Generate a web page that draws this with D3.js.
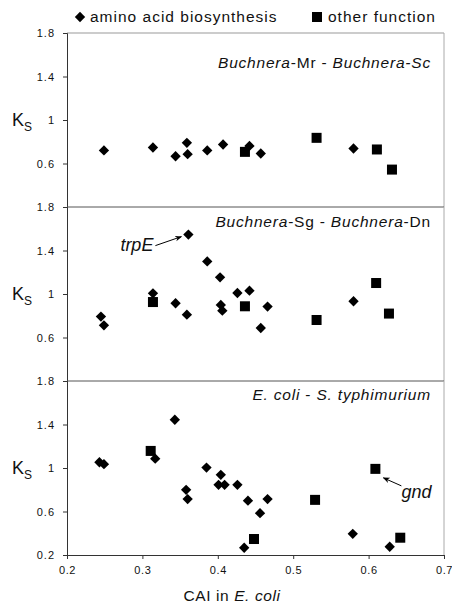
<!DOCTYPE html>
<html>
<head>
<meta charset="utf-8">
<script src="https://cdn.jsdelivr.net/npm/d3@7"></script>
<style>
  body { margin: 0; background: #fff; }
  text { font-family: "Liberation Sans", Arial, sans-serif; fill: #111; }
</style>
</head>
<body>
<div id="chart"></div>
<script>
// values: [CAI in E. coli, Ks]
var mrScAmino = [[0.249, 0.72], [0.314, 0.747], [0.344, 0.667], [0.359, 0.79], [0.360, 0.686],
  [0.386, 0.72], [0.407, 0.775], [0.442, 0.762], [0.457, 0.692], [0.580, 0.738]];
var mrScOther = [[0.436, 0.707], [0.531, 0.836], [0.611, 0.729], [0.631, 0.544]];

var sgDnAmino = [[0.245, 0.792], [0.249, 0.712], [0.314, 1.006], [0.344, 0.915], [0.359, 0.81],
  [0.361, 1.546], [0.386, 1.30], [0.403, 1.153], [0.404, 0.90], [0.406, 0.847], [0.426, 1.009],
  [0.442, 1.031], [0.457, 0.687], [0.466, 0.884], [0.580, 0.933]];
var sgDnOther = [[0.314, 0.926], [0.436, 0.887], [0.531, 0.761], [0.610, 1.101], [0.627, 0.82]];

var ecStAmino = [[0.243, 1.053], [0.249, 1.035], [0.317, 1.086], [0.343, 1.444], [0.358, 0.799],
  [0.360, 0.714], [0.385, 1.004], [0.404, 0.937], [0.401, 0.845], [0.409, 0.845], [0.426, 0.845],
  [0.440, 0.70], [0.456, 0.585], [0.466, 0.714], [0.435, 0.267], [0.579, 0.395], [0.628, 0.276]];
var ecStOther = [[0.311, 1.157], [0.448, 0.347], [0.529, 0.707], [0.609, 0.992], [0.642, 0.359]];

var xTicks = [0.2, 0.3, 0.4, 0.5, 0.6, 0.7];
var yTicks = [1.8, 1.4, 1, 0.6];

var svgWidth = 452;
var svgHeight = 608;
var left = 67, right = 444;
var panelTop = [33, 207, 381];
var panelHeight = 174;

var panels = [
  { amino: mrScAmino, other: mrScOther, titleY: 35,
    title: [["Buchnera", true], ["-Mr - ", false], ["Buchnera", true], ["-Sc", true]] },
  { amino: sgDnAmino, other: sgDnOther, titleY: 20,
    title: [["Buchnera", true], ["-Sg - ", false], ["Buchnera", true], ["-Dn", false]] },
  { amino: ecStAmino, other: ecStOther, titleY: 19,
    title: [["E. coli", true], [" - ", false], ["S. typhimurium", true]] }
];

var svg = d3.select("#chart")
  .append("svg")
  .attr("width", svgWidth)
  .attr("height", svgHeight);

var x = d3.scaleLinear()
  .domain([0.2, 0.7])
  .range([left, right]);

var diamond = d3.symbol().type(d3.symbolDiamond2).size(68);

panels.forEach(function(p, i) {
  var top = panelTop[i];
  var y = d3.scaleLinear()
    .domain([0.2, 1.8])
    .range([top + panelHeight, top]);
  p.y = y;

  var g = svg.append("g");

  // frame
  g.append("line")
    .attr("x1", left).attr("x2", right)
    .attr("y1", top).attr("y2", top)
    .attr("stroke", i == 0 ? "#999" : "#555")
    .attr("stroke-width", 1);
  g.append("line")
    .attr("x1", right).attr("x2", right)
    .attr("y1", top).attr("y2", top + panelHeight)
    .attr("stroke", "#aaa");

  var ticks = i == 2 ? yTicks.concat([0.2]) : yTicks;
  var axis = d3.axisLeft(y)
    .tickValues(ticks)
    .tickSize(4)
    .tickFormat(d3.format("~g"));
  var ag = g.append("g")
    .attr("transform", "translate(" + left + ",0)")
    .call(axis);
  ag.select(".domain").attr("stroke", "#333");
  ag.selectAll(".tick line").attr("stroke", "#333");
  ag.selectAll(".tick text")
    .attr("x", -12)
    .style("font-family", "'Liberation Sans', Arial, sans-serif")
    .style("font-size", "11px")
    .style("letter-spacing", "1px")
    .attr("fill", "#111");

  // Ks label
  var ks = g.append("text")
    .attr("x", 12)
    .attr("y", y(1) + 6)
    .style("font-size", "18px");
  ks.append("tspan").text("K");
  ks.append("tspan").attr("dy", 5).style("font-size", "12px").text("S");

  // panel title
  var t = g.append("text")
    .attr("x", 431)
    .attr("y", top + p.titleY)
    .attr("text-anchor", "end")
    .style("font-size", "15.5px")
    .style("letter-spacing", "0.8px");
  p.title.forEach(function(part) {
    t.append("tspan")
      .style("font-style", part[1] ? "italic" : "normal")
      .text(part[0]);
  });

  g.selectAll(".amino")
    .data(p.amino)
    .enter()
    .append("path")
    .attr("d", diamond)
    .attr("transform", d => "translate(" + x(d[0]) + "," + y(d[1]) + ")")
    .attr("fill", "#000");

  g.selectAll(".other")
    .data(p.other)
    .enter()
    .append("rect")
    .attr("x", d => x(d[0]) - 5)
    .attr("y", d => y(d[1]) - 5)
    .attr("width", 10)
    .attr("height", 10)
    .attr("fill", "#000");
});

// x axis at the bottom of the last panel
var xAxis = d3.axisBottom(x)
  .tickValues(xTicks)
  .tickSize(4)
  .tickFormat(d3.format(".1f"));
var xg = svg.append("g")
  .attr("transform", "translate(0," + (panelTop[2] + panelHeight) + ")")
  .call(xAxis);
xg.select(".domain").attr("stroke", "#333");
xg.selectAll(".tick line").attr("stroke", "#333");
xg.selectAll(".tick text")
  .attr("y", 11)
  .style("font-family", "'Liberation Sans', Arial, sans-serif")
  .style("font-size", "11px")
  .style("letter-spacing", "0.6px")
  .attr("fill", "#111");

var xl = svg.append("text")
  .attr("x", 232)
  .attr("y", 601)
  .attr("text-anchor", "middle")
  .style("font-size", "15.5px")
  .style("letter-spacing", "0.6px");
xl.append("tspan").text("CAI in ");
xl.append("tspan").style("font-style", "italic").text("E. coli");

// legend
svg.append("path")
  .attr("d", diamond)
  .attr("transform", "translate(80,17)")
  .attr("fill", "#000");
svg.append("text")
  .attr("x", 90).attr("y", 22)
  .style("font-size", "15.5px")
  .style("letter-spacing", "1px")
  .text("amino acid biosynthesis");
svg.append("rect")
  .attr("x", 312).attr("y", 12)
  .attr("width", 10).attr("height", 10)
  .attr("fill", "#000");
svg.append("text")
  .attr("x", 328).attr("y", 22)
  .style("font-size", "15.5px")
  .style("letter-spacing", "1px")
  .text("other function");

// annotations
svg.append("defs").append("marker")
  .attr("id", "arrow")
  .attr("viewBox", "0 0 10 10")
  .attr("refX", 9).attr("refY", 5)
  .attr("markerWidth", 7).attr("markerHeight", 7)
  .attr("orient", "auto")
  .append("path")
  .attr("d", "M0,1 L10,5 L0,9 L3,5 Z")
  .attr("fill", "#000");

var trp = sgDnAmino[5];
var tx = x(trp[0]), ty = panels[1].y(trp[1]);
svg.append("line")
  .attr("x1", tx - 33).attr("y1", ty + 11)
  .attr("x2", tx - 7).attr("y2", ty + 2)
  .attr("stroke", "#000").attr("stroke-width", 1)
  .attr("marker-end", "url(#arrow)");
svg.append("text")
  .attr("x", tx - 35).attr("y", ty + 16)
  .attr("text-anchor", "end")
  .style("font-size", "18px")
  .style("font-style", "italic")
  .text("trpE");

var gnd = ecStOther[3];
var gx = x(gnd[0]), gy = panels[2].y(gnd[1]);
svg.append("line")
  .attr("x1", gx + 26).attr("y1", gy + 17)
  .attr("x2", gx + 8).attr("y2", gy + 9)
  .attr("stroke", "#000").attr("stroke-width", 1)
  .attr("marker-end", "url(#arrow)");
svg.append("text")
  .attr("x", gx + 26).attr("y", gy + 29)
  .style("font-size", "18px")
  .style("font-style", "italic")
  .text("gnd");
</script>
</body>
</html>
